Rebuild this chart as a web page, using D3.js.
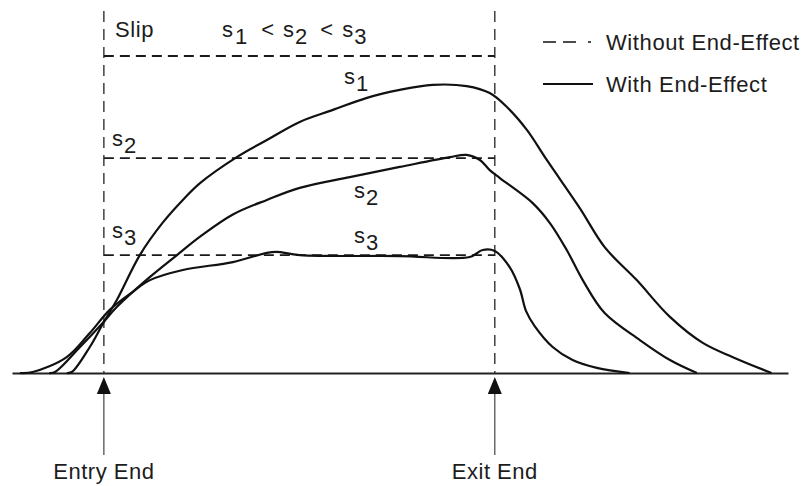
<!DOCTYPE html>
<html>
<head>
<meta charset="utf-8">
<script src="https://cdn.jsdelivr.net/npm/d3@7"></script>
<style>
  body { margin: 0; background: #fff; }
  text { font-family: "Liberation Sans", Arial, sans-serif; fill: #1c1c1c; }
</style>
</head>
<body>
<svg id="chart" width="806" height="486"></svg>
<script>
// position: 0 = entry end, 100 = exit end ; value: 100 = s1 level
var slipLevels = [100, 67.8, 37.2];
var slipNames = ['1', '2', '3'];
var endPositions = [0, 100];
var endLabels = ['Entry End', 'Exit End'];

var s1Curve = [[-9.5, 0], [-8.2, 0.3], [-3.6, 8.2], [0, 16.1], [3.3, 23.0], [9.2, 37.2], [15.1, 47.5],
  [20.2, 54.6], [24.6, 59.9], [34.0, 68.1], [41.7, 73.5], [50.1, 79.2], [58.6, 83.0], [67.3, 86.8],
  [75.7, 89.3], [84.1, 90.9], [92.8, 90.5], [98.7, 88.3], [103.1, 83.9], [108.2, 76.7], [113.3, 67.2],
  [121.7, 52.1], [128.1, 39.7], [136.3, 29.3], [144.8, 17.7], [153.2, 9.5], [160.9, 5.0], [170.8, 0]];

var s2Curve = [[-14, 0], [-12.5, 0.3], [-6.1, 8.2], [-0.3, 15.8], [3.3, 20.8], [11.8, 30.3], [18.7, 37.2],
  [24.6, 43.0], [33.0, 50.0], [41.7, 54.6], [50.1, 58.4], [62.9, 61.8], [75.7, 65.0], [88.5, 68.1],
  [92.8, 68.8], [96.2, 67.2], [98.7, 64.0], [101.3, 61.5], [109.7, 53.6], [114.1, 47.3], [118.4, 38.8],
  [122.5, 29.3], [128.1, 18.9], [137.1, 10.4], [144.8, 4.1], [151.7, 0]];

var s3Curve = [[-21.5, 0], [-18.2, 0.3], [-9.5, 5.0], [-3.6, 12.6], [1.5, 19.9], [7.4, 25.6], [11.8, 29.3],
  [20.2, 32.5], [33.0, 35.0], [41.7, 37.9], [44.2, 38.2], [50.1, 37.2], [75.7, 36.9], [93.6, 36.6],
  [96.9, 38.8], [100, 38.5], [103.8, 33.4], [106.4, 26.5], [108.0, 19.5], [110.2, 14.8], [114.8, 8.2],
  [119.9, 4.1], [126.1, 1.6], [134.5, 0]];

var curves = [s1Curve, s2Curve, s3Curve];

var svg = d3.select('#chart');

var x = d3.scaleLinear().domain([-23.5, 175]).range([12, 788]);
var y = d3.scaleLinear().domain([0, 100]).range([373, 56]);

// baseline as a bare axis
svg.append('g')
  .attr('transform', 'translate(0,' + y(0) + ')')
  .call(d3.axisBottom(x).tickValues([]).tickSizeOuter(0))
  .call(function (g) { g.select('.domain').attr('stroke', '#222').attr('stroke-width', 2); });

// entry / exit dashed verticals
svg.selectAll('.endLine')
  .data(endPositions)
  .enter().append('line')
  .attr('class', 'endLine')
  .attr('x1', function (d) { return x(d); })
  .attr('x2', function (d) { return x(d); })
  .attr('y1', y(114.2))
  .attr('y2', y(0))
  .attr('stroke', '#333')
  .attr('stroke-width', 1.4)
  .attr('stroke-dasharray', '11,7');

// slip levels without end effect
svg.selectAll('.levelLine')
  .data(slipLevels)
  .enter().append('line')
  .attr('class', 'levelLine')
  .attr('x1', x(0))
  .attr('x2', x(100))
  .attr('y1', function (d) { return y(d); })
  .attr('y2', function (d) { return y(d); })
  .attr('stroke', '#1a1a1a')
  .attr('stroke-width', 1.8)
  .attr('stroke-dasharray', '10,6');

// curves with end effect
var line = d3.line()
  .x(function (d) { return x(d[0]); })
  .y(function (d) { return y(d[1]); })
  .curve(d3.curveCatmullRom.alpha(0.5));

svg.selectAll('.curve')
  .data(curves)
  .enter().append('path')
  .attr('class', 'curve')
  .attr('d', line)
  .attr('fill', 'none')
  .attr('stroke', '#111')
  .attr('stroke-width', 2.2);

// arrows below the baseline
var arrows = svg.selectAll('.endArrow')
  .data(endPositions)
  .enter().append('g')
  .attr('class', 'endArrow')
  .attr('transform', function (d) { return 'translate(' + x(d) + ',0)'; });

arrows.append('line')
  .attr('y1', 390).attr('y2', 455)
  .attr('stroke', '#444').attr('stroke-width', 1.2);

arrows.append('path')
  .attr('d', 'M0,377 L-7,394 L7,394 Z')
  .attr('fill', '#111');

arrows.append('text')
  .attr('y', 479)
  .attr('text-anchor', 'middle')
  .style('font-size', '22px')
  .style('letter-spacing', '0.5px')
  .text(function (d, i) { return endLabels[i]; });

// subscripted s labels
function sLabel(px, py, sub) {
  var t = svg.append('text').attr('x', px).attr('y', py).style('font-size', '22px');
  t.append('tspan').text('s');
  t.append('tspan').attr('dx', 1).attr('dy', 7).text(sub);
  return t;
}

svg.append('text').attr('x', 115).attr('y', 37)
  .style('font-size', '22px').style('letter-spacing', '0.6px').text('Slip');

var ineq = svg.append('text').attr('x', 222).attr('y', 37).style('font-size', '22px');
ineq.append('tspan').text('s');
ineq.append('tspan').attr('dx', 2).attr('dy', 7).text('1');
ineq.append('tspan').attr('dy', -7).attr('dx', 14).text('<');
ineq.append('tspan').attr('dx', 9).text('s');
ineq.append('tspan').attr('dx', 1).attr('dy', 7).text('2');
ineq.append('tspan').attr('dy', -7).attr('dx', 13).text('<');
ineq.append('tspan').attr('dx', 9).text('s');
ineq.append('tspan').attr('dx', 1).attr('dy', 7).text('3');

sLabel(344, 84, slipNames[0]);
sLabel(112, 146, slipNames[1]);
sLabel(112, 238, slipNames[2]);
sLabel(354, 198, slipNames[1]);
sLabel(354, 243, slipNames[2]);

// legend
var legendItems = [
  { label: 'Without End-Effect', dash: '13,7,13,12,3,10', y: 42 },
  { label: 'With End-Effect', dash: null, y: 84 }
];
var legend = svg.selectAll('.legendItem')
  .data(legendItems)
  .enter().append('g')
  .attr('class', 'legendItem')
  .attr('transform', function (d) { return 'translate(543,' + d.y + ')'; });

legend.append('line')
  .attr('x1', 0).attr('x2', 50)
  .attr('stroke', '#111')
  .attr('stroke-width', function (d) { return d.dash ? 1.6 : 2.2; })
  .attr('stroke-dasharray', function (d) { return d.dash; });

legend.append('text')
  .attr('x', 63).attr('y', 8)
  .style('font-size', '22px')
  .style('letter-spacing', '0.6px')
  .text(function (d) { return d.label; });
</script>
</body>
</html>
